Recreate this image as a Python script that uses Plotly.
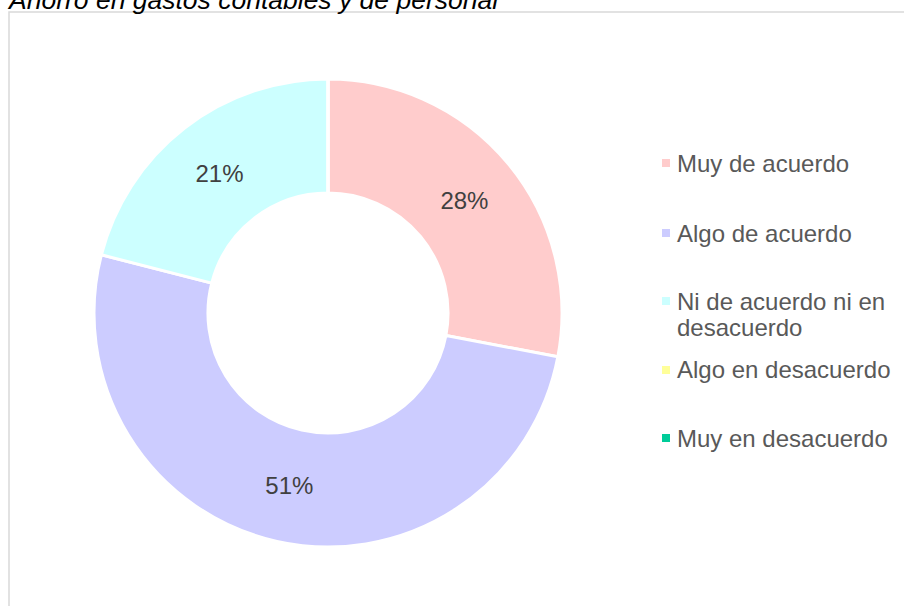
import plotly.graph_objects as go

title_text = "Ahorro en gastos contables y de personal"
categories = ["Muy de acuerdo", "Algo de acuerdo", "Ni de acuerdo ni en desacuerdo",
              "Algo en desacuerdo", "Muy en desacuerdo"]
values = [28, 51, 21, 0, 0]
colors = ["#FFCCCC", "#CCCCFF", "#CCFFFF", "#FFFF99", "#00CC99"]
legend_lines = [["Muy de acuerdo"], ["Algo de acuerdo"], ["Ni de acuerdo ni en", "desacuerdo"],
                ["Algo en desacuerdo"], ["Muy en desacuerdo"]]

W, H = 904, 606
FONT = "Arial, Liberation Sans, sans-serif"

def px(x):
    return x / W

def py(y):
    return 1 - y / H

total = sum(values)
texts = [f"{round(v / total * 100)}%" if v > 0 else "" for v in values]

fig = go.Figure(go.Pie(
    labels=categories,
    values=values,
    text=texts,
    textinfo="text",
    hole=0.513,
    sort=False,
    direction="clockwise",
    rotation=0,
    marker=dict(colors=colors, line=dict(color="white", width=3)),
    textposition="inside",
    insidetextorientation="horizontal",
    textfont=dict(family=FONT, size=24, color="#404040"),
    showlegend=False,
    domain=dict(x=[px(94), px(562)], y=[py(547), py(79)]),
))

shapes = [dict(type="rect", xref="paper", yref="paper",
               x0=px(9), x1=px(W + 10), y0=py(H + 10), y1=py(12),
               line=dict(color="#D9D9D9", width=1.5), fillcolor="rgba(0,0,0,0)")]
annotations = [dict(text=f"<i>{title_text}</i>", xref="paper", yref="paper",
                    x=px(5), y=py(17), xanchor="left", yanchor="bottom",
                    showarrow=False, font=dict(family=FONT, size=26.5, color="#000000"))]

legend_y = [163, 233, 301, 370, 438]
line_gap = 26
for cat, lines, col, yc in zip(categories, legend_lines, colors, legend_y):
    shapes.append(dict(type="rect", xref="paper", yref="paper",
                       x0=px(662), x1=px(670), y0=py(yc + 4), y1=py(yc - 4),
                       line=dict(width=0), fillcolor=col))
    for i, ln in enumerate(lines):
        annotations.append(dict(text=ln, xref="paper", yref="paper",
                                x=px(675), y=py(yc + i * line_gap), xanchor="left", yanchor="middle",
                                showarrow=False, font=dict(family=FONT, size=24, color="#595959")))

fig.update_layout(
    width=W, height=H,
    margin=dict(l=0, r=0, t=0, b=0),
    paper_bgcolor="white", plot_bgcolor="white",
    shapes=shapes, annotations=annotations,
)

fig.write_html("out.html", config={"displayModeBar": False},
               post_script="document.body.style.margin='0';")
